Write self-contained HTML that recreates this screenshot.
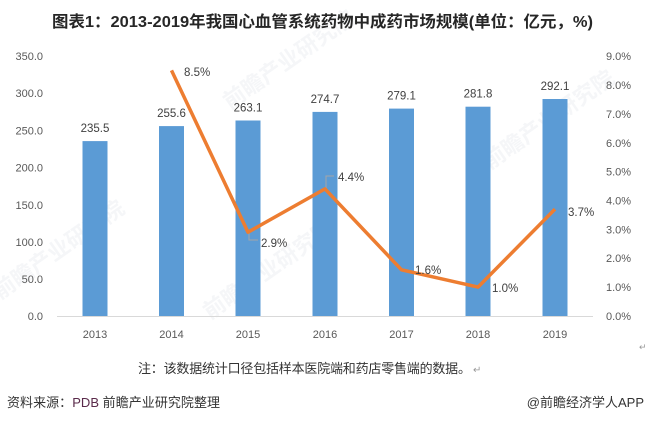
<!DOCTYPE html>
<html>
<head>
<meta charset="utf-8">
<style>
  html,body{margin:0;padding:0;background:#fff;}
  body{width:645px;height:422px;overflow:hidden;}
  svg{display:block;}
  .t{font-family:"Liberation Sans","Noto Sans CJK SC",sans-serif;}
</style>
</head>
<body>
<svg width="645" height="422" viewBox="0 0 645 422" xmlns="http://www.w3.org/2000/svg">
  <rect width="645" height="422" fill="#fff"/>

  <!-- faint watermarks -->
  <g class="t" fill="#eef1f4" font-size="22" font-weight="bold" opacity="0.6">
    <text x="0" y="300" transform="rotate(-35 0 300)">前瞻产业研究院</text>
    <text x="210" y="320" transform="rotate(-35 210 320)">前瞻产业研究院</text>
    <text x="230" y="110" transform="rotate(-35 230 110)">前瞻产业研究院</text>
    <text x="490" y="170" transform="rotate(-35 490 170)">前瞻产业研究院</text>
  </g>

  <!-- title -->
  <text class="t" x="52" y="27" font-size="16" font-weight="bold" fill="#262626" textLength="541" lengthAdjust="spacingAndGlyphs">图表1：2013-2019年我国心血管系统药物中成药市场规模(单位：亿元，%)</text>

  <!-- left axis labels -->
  <g class="t" font-size="11" fill="#595959" text-anchor="end">
    <text x="43" y="60">350.0</text>
    <text x="43" y="97">300.0</text>
    <text x="43" y="134.5">250.0</text>
    <text x="43" y="171.5">200.0</text>
    <text x="43" y="209">150.0</text>
    <text x="43" y="246">100.0</text>
    <text x="43" y="283">50.0</text>
    <text x="43" y="320">0.0</text>
  </g>
  <!-- right axis labels -->
  <g class="t" font-size="11" fill="#595959" text-anchor="start">
    <text x="606" y="60">9.0%</text>
    <text x="606" y="89">8.0%</text>
    <text x="606" y="118">7.0%</text>
    <text x="606" y="147">6.0%</text>
    <text x="606" y="175.5">5.0%</text>
    <text x="606" y="204.5">4.0%</text>
    <text x="606" y="233.5">3.0%</text>
    <text x="606" y="262">2.0%</text>
    <text x="606" y="291">1.0%</text>
    <text x="606" y="320">0.0%</text>
  </g>

  <!-- bars -->
  <g fill="#5B9BD5">
    <rect x="82.5" y="141.1" width="25" height="174.9"/>
    <rect x="159" y="126.1" width="25" height="189.9"/>
    <rect x="235.5" y="120.5" width="25" height="195.5"/>
    <rect x="312.5" y="111.9" width="25" height="204.1"/>
    <rect x="389" y="108.6" width="25" height="207.4"/>
    <rect x="465.5" y="106.7" width="25" height="209.3"/>
    <rect x="542.5" y="99" width="25" height="217"/>
  </g>

  <!-- axis line -->
  <line x1="57" y1="316.5" x2="593" y2="316.5" stroke="#d9d9d9" stroke-width="1"/>

  <!-- x labels -->
  <g class="t" font-size="11" fill="#595959" text-anchor="middle">
    <text x="95" y="338">2013</text>
    <text x="171.5" y="338">2014</text>
    <text x="248" y="338">2015</text>
    <text x="325" y="338">2016</text>
    <text x="401.5" y="338">2017</text>
    <text x="478" y="338">2018</text>
    <text x="555" y="338">2019</text>
  </g>

  <!-- bar value labels -->
  <g class="t" font-size="11.5" fill="#404040" text-anchor="middle">
    <text x="95" y="132">235.5</text>
    <text x="171.5" y="117">255.6</text>
    <text x="248" y="111.5">263.1</text>
    <text x="325" y="103">274.7</text>
    <text x="401.5" y="99.5">279.1</text>
    <text x="478" y="97.5">281.8</text>
    <text x="555" y="90">292.1</text>
  </g>

  <!-- leader lines -->
  <g fill="none" stroke="#a6a6a6" stroke-width="1">
    <polyline points="249,233 249,240 258,240"/>
    <polyline points="326,188 326,176 334,176"/>
  </g>

  <!-- growth line -->
  <polyline fill="none" stroke="#ED7D31" stroke-width="3.5" stroke-linejoin="round" stroke-linecap="butt"
    points="171.5,70.4 248,232.2 325,188.9 401.5,269.8 478,287.1 555,209.1"/>

  <!-- line labels -->
  <g class="t" font-size="11.5" fill="#404040">
    <text x="184" y="76">8.5%</text>
    <text x="261" y="247">2.9%</text>
    <text x="338" y="181">4.4%</text>
    <text x="415" y="274">1.6%</text>
    <text x="492" y="292">1.0%</text>
    <text x="568" y="216">3.7%</text>
  </g>

  <!-- note -->
  <text class="t" x="138" y="373" font-size="13" fill="#333" textLength="333" lengthAdjust="spacing">注：该数据统计口径包括样本医院端和药店零售端的数据。</text>
  <text class="t" x="473" y="373" font-size="10" fill="#999">↵</text>
  <text class="t" x="639" y="350" font-size="9" fill="#999">↵</text>

  <!-- footer -->
  <text class="t" x="7" y="407" font-size="13" fill="#333" textLength="213" lengthAdjust="spacing">资料来源：<tspan fill="#5a2a4a">PDB</tspan> 前瞻产业研究院整理</text>
  <text class="t" x="644" y="407" font-size="13" fill="#333" text-anchor="end">@前瞻经济学人APP</text>
</svg>
</body>
</html>
